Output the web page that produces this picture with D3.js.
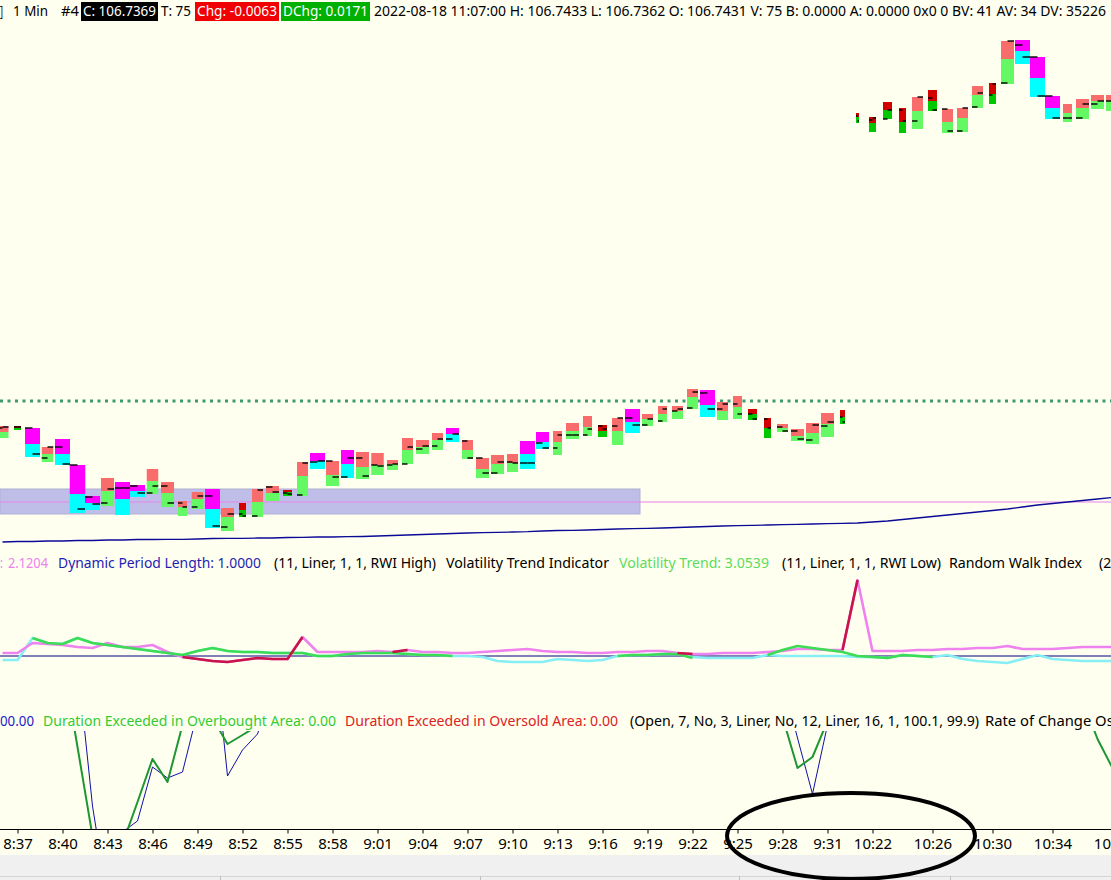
<!DOCTYPE html>
<html><head><meta charset="utf-8">
<script src="https://cdn.jsdelivr.net/npm/d3@7"></script>
<style>
html,body{margin:0;padding:0;background:#FFFFF0;}
svg{display:block;}
text{font-family:"Noto Sans","Open Sans",sans-serif;}
</style></head><body>
<svg id="c" width="1111" height="880"></svg>
<script>
// ---------------- DATA ----------------
const times = ["8:36","8:37","8:38","8:39","8:40","8:41","8:42","8:43","8:44","8:45",
 "8:46","8:47","8:48","8:49","8:50","8:51","8:52","8:53","8:54","8:55",
 "8:56","8:57","8:58","8:59","9:00","9:01","9:02","9:03","9:04","9:05",
 "9:06","9:07","9:08","9:09","9:10","9:11","9:12","9:13","9:14","9:15",
 "9:16","9:17","9:18","9:19","9:20","9:21","9:22","9:23","9:24","9:25",
 "9:26","9:27","9:28","9:29","9:30","9:31","9:32","10:21","10:22","10:23",
 "10:24","10:25","10:26","10:27","10:28","10:29","10:30","10:31","10:32","10:33",
 "10:34","10:35","10:36","10:37","10:38"];
const tickIdx = [1,4,7,10,13,16,19,22,25,28,31,34,37,40,43,46,49,52,55,58,62,66,70,74];

const high = [
106.6020,106.6020,106.6010,106.5915,106.5955,106.5825,106.5670,106.5760,106.5740,106.5725,
106.5805,106.5740,106.5645,106.5690,106.5705,106.5610,106.5635,106.5705,106.5720,106.5700,
106.5840,106.5885,106.5845,106.5900,106.5890,106.5885,106.5850,106.5960,106.5950,106.5985,
106.6010,106.5950,106.5860,106.5875,106.5880,106.5945,106.5990,106.5995,106.6035,106.6070,
106.6025,106.6060,106.6105,106.6080,106.6120,106.6120,106.6205,106.6200,106.6140,106.6170,
106.6105,106.6060,106.6030,106.6005,106.6035,106.6085,106.6100,106.7585,106.7565,106.7640,
106.7610,106.7665,106.7700,106.7605,106.7610,106.7720,106.7735,106.7945,106.7950,106.7865,
106.7670,106.7630,106.7655,106.7675,106.7675];
const split = [
106.5990,106.6010,106.5930,106.5880,106.5880,106.5680,106.5635,106.5695,106.5655,106.5695,
106.5745,106.5685,106.5615,106.5655,106.5605,106.5565,106.5600,106.5640,106.5685,106.5690,
106.5770,106.5845,106.5775,106.5830,106.5815,106.5825,106.5830,106.5900,106.5915,106.5950,
106.5980,106.5900,106.5805,106.5830,106.5835,106.5880,106.5940,106.5940,106.5995,106.6015,
106.5995,106.5995,106.6040,106.6055,106.6080,106.6095,106.6165,106.6125,106.6095,106.6115,
106.6080,106.6010,106.6010,106.5970,106.5985,106.6030,106.6065,106.7565,106.7535,106.7600,
106.7540,106.7595,106.7645,106.7540,106.7560,106.7675,106.7680,106.7855,106.7895,106.7760,
106.7610,106.7585,106.7610,106.7645,106.7645];
const low = [
106.5960,106.6000,106.5865,106.5840,106.5825,106.5585,106.5600,106.5620,106.5575,106.5665,
106.5680,106.5615,106.5570,106.5605,106.5510,106.5495,106.5565,106.5565,106.5645,106.5670,
106.5670,106.5805,106.5720,106.5760,106.5755,106.5775,106.5800,106.5830,106.5880,106.5900,
106.5940,106.5855,106.5760,106.5780,106.5790,106.5805,106.5905,106.5875,106.5955,106.5970,
106.5965,106.5925,106.5985,106.6020,106.6040,106.6055,106.6105,106.6065,106.6050,106.6055,
106.6050,106.5960,106.5990,106.5945,106.5930,106.5965,106.6030,106.7535,106.7490,106.7555,
106.7485,106.7505,106.7595,106.7485,106.7490,106.7610,106.7630,106.7730,106.7830,106.7665,
106.7555,106.7540,106.7555,106.7605,106.7595];
const open = [
106.6010,106.6015,106.6010,106.5860,106.5915,106.5825,106.5665,106.5635,106.5710,106.5720,
106.5685,106.5720,106.5635,106.5615,106.5670,106.5515,106.5580,106.5570,106.5715,106.5685,
106.5675,106.5840,106.5845,106.5765,106.5860,106.5825,106.5825,106.5830,106.5905,106.5920,
106.5955,106.5945,106.5860,106.5785,106.5840,106.5835,106.5935,106.5910,106.5975,106.5975,
106.6020,106.6020,106.6060,106.6025,106.6045,106.6095,106.6110,106.6185,106.6105,106.6130,
106.6080,106.6055,106.6015,106.5995,106.5950,106.6020,106.6065,106.7570,106.7550,106.7555,
106.7600,106.7545,106.7660,106.7605,106.7495,106.7615,106.7675,106.7735,106.7925,106.7865,
106.7670,106.7560,106.7560,106.7630,106.7645];
const close = [
106.6015,106.6015,106.5880,106.5915,106.5830,106.5605,106.5630,106.5705,106.5710,106.5685,
106.5720,106.5635,106.5615,106.5670,106.5520,106.5580,106.5570,106.5700,106.5690,106.5680,
106.5835,106.5845,106.5765,106.5860,106.5770,106.5820,106.5830,106.5915,106.5920,106.5955,
106.5980,106.5860,106.5785,106.5840,106.5835,106.5835,106.5910,106.5975,106.5975,106.6005,
106.6005,106.6060,106.6025,106.6055,106.6105,106.6105,106.6190,106.6105,106.6130,106.6080,
106.6055,106.6010,106.5995,106.5955,106.6025,106.6040,106.6040,106.7545,106.7560,106.7600,
106.7545,106.7665,106.7600,106.7495,106.7610,106.7685,106.7730,106.7945,106.7865,106.7670,
106.7560,106.7560,106.7630,106.7645,106.7655];
const barType = ("LDMLMMMLMM"+"LLLLMLDLLD"+"LMLMLLLLLL"+"MLLLLMMLLL"+"DLMLLLLMLL"+
                 "DDLLLLDDDD"+"DLDLLLDLMM"+"MLLLL").split("");
const volume = [120,70,150,115,150,155,150,130,150,150,
 115,130,90,115,150,130,70,110,130,90,
 110,150,130,130,130,125,110,110,130,110,
 130,110,130,130,110,150,130,90,130,90,
 90,110,150,110,90,110,110,150,110,90,
 90,70,110,130,130,130,50,30,70,90,
 70,110,90,110,110,110,70,130,150,150,
 150,90,130,130,130];
const movingAvg = [
106.5440,106.54425,106.54425,106.5445,106.5445,106.54475,106.54475,106.5450,106.5450,106.54525,
106.54525,106.54535,106.54535,106.5455,106.54575,106.54585,106.54585,106.5460,106.5460,106.54625,
106.54635,106.5465,106.5465,106.54665,106.54675,106.5470,106.54725,106.5475,106.54775,106.5480,
106.54825,106.5485,106.54865,106.54885,106.5490,106.54915,106.5495,106.54975,106.54985,106.5500,
106.55025,106.5505,106.55065,106.55085,106.5510,106.55125,106.5515,106.55175,106.5520,106.55215,
106.55235,106.5525,106.55265,106.55285,106.5530,106.55315,106.55335,106.5535,106.5540,106.5545,
106.55525,106.5560,106.55675,106.5575,106.55825,106.5590,106.55975,106.5605,106.5615,106.5625,
106.56325,106.5640,106.56475,106.5655,106.56625];
const dottedLevel = 106.6145;
const zoneTop = 106.5705, zoneBottom = 106.5580, zoneLastBar = 42;
const pivotLevel = 106.5640;

// indicator 1
const rwiHigh = [1.3,1.3,2.3,2.2,2.1,1.9,1.8,2.3,1.9,1.9,
 2.1,1.4,0.9,0.7,0.5,0.4,0.6,0.8,0.7,0.7,
 2.9,1.4,1.4,1.4,1.4,1.5,1.4,1.6,1.4,1.4,
 1.3,1.3,1.4,1.5,1.6,1.7,1.5,1.4,1.4,1.3,
 1.3,1.4,1.4,1.5,1.5,1.3,1.2,1.2,1.3,1.3,
 1.3,1.4,1.5,1.7,1.7,1.6,1.6,8.6,1.5,1.5,
 1.5,1.6,1.6,1.7,1.7,1.8,1.8,2.0,1.7,1.7,
 1.7,1.8,1.9,1.9,1.9];
const rwiLow = [0.6,0.6,2.8,2.3,2.2,2.8,2.3,2.1,1.9,1.7,
 1.5,1.3,1.1,1.5,1.8,1.5,1.4,1.4,1.3,1.3,
 1.3,1.0,1.0,1.2,1.3,1.3,1.3,1.2,1.1,1.1,
 1.0,1.0,0.9,0.5,0.4,0.4,0.4,0.7,0.6,0.5,
 0.6,1.0,1.1,1.1,1.2,1.2,0.9,0.8,0.8,0.8,
 0.8,1.1,1.0,1.0,1.0,1.0,1.0,0.9,0.9,0.8,
 1.1,1.0,0.9,1.1,0.7,0.5,0.4,0.3,0.7,1.1,
 0.7,0.6,0.5,0.5,0.5];
const trendUp = [null,null,2.8,2.3,2.2,2.8,2.3,2.1,1.9,1.7,
 1.5,1.3,1.1,1.5,1.8,1.5,1.4,1.4,1.3,1.3,
 1.3,1.0,1.0,1.2,1.3,1.3,1.3,1.2,1.1,1.1,
 1.0,null,null,null,null,null,null,null,null,null,
 null,1.0,1.1,1.1,1.2,1.2,0.8,null,null,null,
 null,1.1,1.6,2.0,1.8,1.6,1.4,1.0,0.9,0.8,
 1.1,1.0,0.9,null,null,null,null,null,null,null,
 null,null,null,null,null];
const trendDown = [null,null,null,null,null,null,null,null,null,null,
 null,null,0.9,0.7,0.5,0.4,0.6,0.8,0.7,0.7,
 2.9,null,null,null,null,null,1.4,1.6,null,null,
 null,null,null,null,null,null,null,null,null,null,
 null,null,null,null,null,1.3,1.2,null,null,null,
 null,null,null,null,null,null,1.6,8.6,null,null,
 null,null,null,null,null,null,null,null,null,null,
 null,null,null,null,null];
const dynamicPeriod = 1.0;

// indicator 2 (rate of change oscillator)
const rocMain = [100.045,100.06,100.07,100.0625,100.061,100.0165,99.972,99.95,99.968,99.989,
 100.0105,99.999,100.0275,100.045,100.031,100.018,100.0225,100.027,100.04,100.055,
 100.065,100.07,100.0625,100.075,100.08,100.085,100.07,100.09,100.095,100.0975,
 100.1,100.09,100.075,100.0775,100.0825,100.085,100.09,100.095,100.0925,100.1,
 100.0975,100.1025,100.0975,100.1,100.105,100.1025,100.11,100.1,100.09,100.07,
 100.055,100.045,100.0315,100.006,100.0115,100.0295,100.05,100.08,100.09,100.095,
 100.09,100.1,100.0975,100.09,100.095,100.105,100.1025,100.12,100.115,100.09,
 100.07,100.055,100.04,100.0205,100.006];
const rocSignal = [100.04,100.05,100.0625,100.065,100.07,100.059,99.987,99.94,99.974,99.9795,
 100.0065,100.001,100.004,100.034,100.0755,100.002,100.015,100.023,100.045,100.06,
 100.07,100.075,100.07,100.08,100.0825,100.0875,100.08,100.0925,100.0975,100.1,
 100.1025,100.095,100.0825,100.0825,100.0875,100.09,100.0925,100.0975,100.095,100.1025,
 100.1,100.105,100.1,100.1025,100.1075,100.105,100.1125,100.1025,100.0925,100.0775,
 100.065,100.06,100.05,100.021,99.993,100.0275,100.06,100.09,100.095,100.1,
 100.095,100.1025,100.101,100.095,100.0975,100.1075,100.106,100.1225,100.1175,100.095,
 100.075,100.0625,100.05,100.04,100.03];

const hdr = {tf:"1 Min", num:"#4", c:"C: 106.7369", t:"T: 75", chg:"Chg: -0.0063", dchg:"DChg: 0.0171",
  rest:"2022-08-18 11:07:00 H: 106.7433 L: 106.7362 O: 106.7431 V: 75 B: 0.0000 A: 0.0000 0x0 0 BV: 41 AV: 34 DV: 35226"};

// ---------------- DRAW ----------------
const W = 1111, H = 880;
const svg = d3.select("#c");
svg.append("rect").attr("width", W).attr("height", H).attr("fill", "#FFFFF0");
const defs = svg.append("defs");
function clip(id, y0, y1){ defs.append("clipPath").attr("id", id).append("rect")
  .attr("x", 0).attr("y", y0).attr("width", W).attr("height", y1 - y0); }
clip("cMain", 22, 548); clip("cInd1", 572, 708); clip("cInd2", 731, 829);

const x = d3.scaleLinear().domain([0, 74]).range([2.5, 1112.5]);
const yP = d3.scaleLinear().domain([106.540, 106.815]).range([550, 0]);
const wS = d3.scaleLinear().domain([0, 150]).range([0, 15]);
const yI = d3.scaleLinear().domain([0, 10]).range([666, 566]);
const yR = d3.scaleLinear().domain([100, 100.05]).range([780, 680]);
const idx = d3.range(times.length);

// text helper
function txt(g, x1, x2, yb, s, col, size, extra){
  const t = g.append("text").attr("x", x1).attr("y", yb).attr("fill", col)
    .attr("font-size", size).text(s);
  if (x2 != null) t.attr("textLength", x2 - x1).attr("lengthAdjust", "spacingAndGlyphs");
  return t;
}

// header
const gh = svg.append("g");
txt(gh, 0, 3, 16, "]", "#000", 14);
txt(gh, 13, 48, 16, hdr.tf, "#000", 14);
txt(gh, 61, 79, 16, hdr.num, "#000", 14);
gh.append("rect").attr("x", 81).attr("y", 2).attr("width", 77).attr("height", 19).attr("fill", "#000");
txt(gh, 83, 156, 16, hdr.c, "#fff", 14);
txt(gh, 161, 191, 16, hdr.t, "#000", 14);
gh.append("rect").attr("x", 195).attr("y", 2).attr("width", 84).attr("height", 19).attr("fill", "#F00000");
txt(gh, 197, 277, 16, hdr.chg, "#fff", 14);
gh.append("rect").attr("x", 281).attr("y", 2).attr("width", 89).attr("height", 19).attr("fill", "#00B000");
txt(gh, 283, 368, 16, hdr.dchg, "#fff", 14);
txt(gh, 374, 1106, 16, hdr.rest, "#000", 14);

// main panel
const gm = svg.append("g").attr("clip-path", "url(#cMain)");
gm.append("rect").attr("x", 0).attr("y", yP(zoneTop))
  .attr("width", x(zoneLastBar) + 7.5).attr("height", yP(zoneBottom) - yP(zoneTop))
  .attr("fill", "#BEBEE8").attr("stroke", "#B0B0D4").attr("stroke-width", 1);
gm.append("line").attr("x1", 0).attr("x2", W).attr("y1", yP(pivotLevel)).attr("y2", yP(pivotLevel))
  .attr("stroke", "#E683E6").attr("stroke-width", 1);
gm.append("line").attr("x1", 0).attr("x2", W).attr("y1", yP(dottedLevel)).attr("y2", yP(dottedLevel))
  .attr("stroke", "#3C9A6E").attr("stroke-width", 3).attr("stroke-dasharray", "3,4.5");
gm.append("path").datum(idx).attr("fill", "none").attr("stroke", "#0A0A96").attr("stroke-width", 1.3)
  .attr("d", d3.line().x(i => x(i)).y(i => yP(movingAvg[i])));

const pal = {L: ["#F96C6C", "#64F864"], M: ["#FF00FF", "#00FFFF"], D: ["#D20000", "#00C800"]};
const bars = gm.selectAll("g.bar").data(idx).join("g").attr("class", "bar");
bars.append("rect").attr("x", i => x(i) - wS(volume[i]) / 2).attr("width", i => wS(volume[i]))
  .attr("y", i => yP(high[i])).attr("height", i => yP(split[i]) - yP(high[i]))
  .attr("fill", i => pal[barType[i]][0]);
bars.append("rect").attr("x", i => x(i) - wS(volume[i]) / 2).attr("width", i => wS(volume[i]))
  .attr("y", i => yP(split[i])).attr("height", i => yP(low[i]) - yP(split[i]))
  .attr("fill", i => pal[barType[i]][1]);
bars.append("line").attr("x1", i => x(i) - wS(volume[i]) / 2).attr("x2", i => x(i))
  .attr("y1", i => yP(open[i])).attr("y2", i => yP(open[i])).attr("stroke", "#000").attr("stroke-width", 1.4);
bars.append("line").attr("x1", i => x(i)).attr("x2", i => x(i) + wS(volume[i]) / 2)
  .attr("y1", i => yP(close[i])).attr("y2", i => yP(close[i])).attr("stroke", "#000").attr("stroke-width", 1.4);

// indicator 1 header
const g1h = svg.append("g");
txt(g1h, 0, 3, 568, ":", "#EE82EE", 14);
txt(g1h, 8, 48, 568, "2.1204", "#EE82EE", 14);
txt(g1h, 58, 261, 568, "Dynamic Period Length: 1.0000", "#1E1EB4", 14);
txt(g1h, 274, 436, 568, "(11, Liner, 1, 1, RWI High)", "#000", 14);
txt(g1h, 446, 609, 568, "Volatility Trend Indicator", "#000", 14);
txt(g1h, 619, 769, 568, "Volatility Trend: 3.0539", "#5CDC5C", 14);
txt(g1h, 782, 941, 568, "(11, Liner, 1, 1, RWI Low)", "#000", 14);
txt(g1h, 949, 1082, 568, "Random Walk Index", "#000", 14);
txt(g1h, 1099, null, 568, "(21, Liner)", "#000", 14);

// indicator 1 lines
const g1 = svg.append("g").attr("clip-path", "url(#cInd1)");
function ser(g, arr, sc, col, w){
  g.append("path").datum(idx).attr("fill", "none").attr("stroke", col).attr("stroke-width", w)
    .attr("stroke-linejoin", "round")
    .attr("d", d3.line().defined(i => arr[i] != null).x(i => x(i)).y(i => sc(arr[i])));
}
g1.append("line").attr("x1", 0).attr("x2", W).attr("y1", yI(dynamicPeriod)).attr("y2", yI(dynamicPeriod))
  .attr("stroke", "#000080").attr("stroke-width", 1);
ser(g1, rwiLow, yI, "#86EEF4", 2.6);
ser(g1, rwiHigh, yI, "#EE82EE", 2.6);
ser(g1, trendUp, yI, "#3CDC55", 2.6);
ser(g1, trendDown, yI, "#C8144B", 2.6);

// indicator 2 header
const g2h = svg.append("g");
txt(g2h, 0, 34, 726, "00.00", "#1C1CC8", 14);
txt(g2h, 43, 336, 726, "Duration Exceeded in Overbought Area: 0.00", "#33CC33", 14);
txt(g2h, 345, 618, 726, "Duration Exceeded in Oversold Area: 0.00", "#DD2222", 14);
txt(g2h, 630, 979, 726, "(Open, 7, No, 3, Liner, No, 12, Liner, 16, 1, 100.1, 99.9)", "#000", 14);
txt(g2h, 985, 1161, 726, "Rate of Change Oscillator", "#000", 14);

const g2 = svg.append("g").attr("clip-path", "url(#cInd2)");
ser(g2, rocSignal, yR, "#1010A8", 1);
ser(g2, rocMain, yR, "#1E9632", 2);

// x axis
svg.append("line").attr("x1", 0).attr("x2", W).attr("y1", 829.5).attr("y2", 829.5).attr("stroke", "#000");
const ax = svg.append("g").attr("transform", "translate(0,829.5)")
  .call(d3.axisBottom(x).tickValues(tickIdx).tickFormat(i => times[i]).tickSize(4).tickPadding(5));
ax.select(".domain").remove();
ax.selectAll("line").attr("stroke", "#000");
ax.selectAll("text").attr("fill", "#000").attr("font-size", 15)
  .attr("font-family", "'Liberation Sans Narrow','Arial Narrow',sans-serif");

// bottom bar
svg.append("rect").attr("x", 0).attr("y", 855).attr("width", W).attr("height", 25).attr("fill", "#F0F0F0");
svg.append("line").attr("x1", 0).attr("x2", W).attr("y1", 876.5).attr("y2", 876.5).attr("stroke", "#D4D4D4");
[220, 480, 739, 950].forEach(v => svg.append("line").attr("x1", v + 0.5).attr("x2", v + 0.5)
  .attr("y1", 876).attr("y2", 880).attr("stroke", "#C0C0C0"));

// annotation ellipse
svg.append("ellipse").attr("cx", 851).attr("cy", 836).attr("rx", 124).attr("ry", 43)
  .attr("fill", "none").attr("stroke", "#000").attr("stroke-width", 4);
</script>
</body></html>
